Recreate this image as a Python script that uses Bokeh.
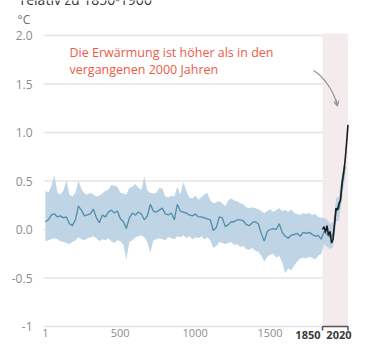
from bokeh.plotting import figure
from bokeh.models import Range1d, FixedTicker, BoxAnnotation, Arrow, OpenHead
from bokeh.core.properties import value
from bokeh.embed import file_html
from bokeh.resources import INLINE

# ---------------- data ----------------
years = list(range(1, 2002, 20))
central = [0.08, 0.10, 0.15, 0.16, 0.13, 0.14, 0.12, 0.13, 0.06, 0.04,
           0.10, 0.24, 0.20, 0.14, 0.15, 0.16, 0.21, 0.12, 0.07, 0.15,
           0.13, 0.18, 0.20, 0.17, 0.19, 0.11, 0.08, 0.01, 0.12, 0.17,
           0.15, 0.18, 0.16, 0.10, 0.14, 0.26, 0.19, 0.18, 0.20, 0.22,
           0.16, 0.15, 0.17, 0.10, 0.26, 0.19, 0.18, 0.17, 0.15, 0.14,
           0.16, 0.13, 0.13, 0.12, 0.11, 0.10, -0.01, 0.02, 0.13, 0.12,
           0.03, 0.05, 0.08, 0.08, 0.10, 0.10, 0.09, 0.05, 0.04, 0.07,
           0.08, 0.06, -0.04, -0.12, -0.02, 0.00, 0.01, 0.00, 0.06, -0.03,
           -0.07, -0.09, -0.06, -0.05, -0.04, -0.07, -0.03, -0.04, -0.03, -0.05,
           -0.07, -0.06, -0.10, -0.02, -0.05, -0.08, -0.05, 0.20, 0.22, 0.45,
           0.65]
upper = [0.40, 0.38, 0.45, 0.56, 0.38, 0.36, 0.40, 0.51, 0.36, 0.34,
         0.38, 0.50, 0.42, 0.37, 0.36, 0.38, 0.36, 0.34, 0.35, 0.37,
         0.40, 0.41, 0.46, 0.45, 0.44, 0.38, 0.37, 0.36, 0.43, 0.44,
         0.47, 0.43, 0.41, 0.55, 0.40, 0.38, 0.37, 0.38, 0.43, 0.42,
         0.34, 0.33, 0.35, 0.34, 0.44, 0.36, 0.49, 0.40, 0.33, 0.32,
         0.35, 0.31, 0.33, 0.36, 0.38, 0.30, 0.27, 0.28, 0.29, 0.27,
         0.24, 0.30, 0.32, 0.30, 0.29, 0.27, 0.26, 0.23, 0.22, 0.23,
         0.22, 0.21, 0.19, 0.17, 0.19, 0.21, 0.18, 0.20, 0.22, 0.19,
         0.20, 0.18, 0.21, 0.17, 0.16, 0.15, 0.17, 0.16, 0.17, 0.15,
         0.16, 0.13, 0.12, 0.12, 0.10, 0.06, 0.08, 0.32, 0.35, 0.58,
         0.72]
lower = [-0.12, -0.11, -0.10, -0.09, -0.10, -0.12, -0.13, -0.14, -0.15, -0.13,
         -0.11, -0.08, -0.10, -0.11, -0.09, -0.08, -0.07, -0.09, -0.12, -0.10,
         -0.11, -0.09, -0.12, -0.14, -0.11, -0.12, -0.16, -0.31, -0.13, -0.11,
         -0.08, -0.07, -0.06, -0.08, -0.13, -0.24, -0.11, -0.10, -0.09, -0.10,
         -0.11, -0.08, -0.09, -0.10, -0.07, -0.08, -0.06, -0.09, -0.07, -0.10,
         -0.08, -0.09, -0.07, -0.10, -0.08, -0.11, -0.19, -0.17, -0.13, -0.14,
         -0.15, -0.14, -0.13, -0.16, -0.15, -0.18, -0.17, -0.20, -0.21, -0.19,
         -0.22, -0.23, -0.27, -0.33, -0.28, -0.26, -0.25, -0.29, -0.27, -0.34,
         -0.45, -0.40, -0.42, -0.37, -0.33, -0.30, -0.29, -0.30, -0.28, -0.29,
         -0.31, -0.27, -0.25, -0.15, -0.18, -0.20, -0.18, 0.08, 0.10, 0.33,
         0.55]

obs_years = list(range(1850, 2021, 10))
obs_values = [0.00, 0.03, -0.03, 0.04, -0.06, -0.02, -0.14, -0.10, 0.05, 0.22,
              0.20, 0.27, 0.30, 0.48, 0.58, 0.70, 0.88, 1.08]

y_ticks = [-1.0, -0.5, 0.0, 0.5, 1.0, 1.5, 2.0]
y_tick_labels = ["-1", "-0.5", "0.0", "0.5", "1.0", "1.5", "2.0"]
x_ticks = [1, 500, 1000, 1500]
x_bold_ticks = [1850, 2020]
recent_period = (1850, 2020)

subtitle = "relativ zu 1850-1900"
unit_label = "°C"
note_lines = ["Die Erwärmung ist höher als in den", "vergangenen 2000 Jahren"]

FONT = "Open Sans"
GREY = "#8c8c8c"

# ---------------- geometry ----------------
W, H = 370, 347
# plotting area of the reference (page px): x 43..349 <-> years -12..2030,
# y 2.0 at px 35, -1.0 at px 326
X0_PX, X0, X1_PX, X1 = 43, -12.0, 349, 2030.0
YTOP_PX, YTOP, YBOT_PX, YBOT = 35, 2.0, 326, -1.0
sx = (X1 - X0) / (X1_PX - X0_PX)       # years per pixel
sy = (YTOP - YBOT) / (YBOT_PX - YTOP_PX)  # units per pixel


def px2x(px):
    return X0 + (px - X0_PX) * sx


def px2y(py):
    return YBOT + (YBOT_PX - py) * sy


p = figure(width=W, height=H, output_backend="svg", toolbar_location=None,
           x_range=Range1d(px2x(0), px2x(W)), y_range=Range1d(px2y(H), px2y(0)),
           min_border=0, min_border_left=0, min_border_right=0,
           min_border_top=0, min_border_bottom=0)
p.outline_line_color = None
p.background_fill_color = "white"
p.border_fill_color = "white"

# recent period shading
p.add_layout(BoxAnnotation(left=recent_period[0], right=recent_period[1],
                           bottom=YBOT, top=px2y(33),
                           fill_color="#f4ecec", fill_alpha=1.0, line_color=None,
                           level="underlay"))

# grid lines (only across the plotting area)
p.xgrid.visible = False
p.ygrid.visible = False
p.segment(x0=[X0] * len(y_ticks), y0=y_ticks, x1=[px2x(348)] * len(y_ticks),
          y1=y_ticks, line_color="#e4e4e4", line_width=1.5, level="underlay")

# axes at fixed positions inside the canvas
p.yaxis.fixed_location = X0
p.yaxis.ticker = FixedTicker(ticks=y_ticks)
p.yaxis.major_label_overrides = {t: l for t, l in zip(y_ticks, y_tick_labels)}
p.yaxis.axis_line_color = None
p.yaxis.major_tick_line_color = None
p.yaxis.minor_tick_line_color = None
p.yaxis.major_label_standoff = 5
p.yaxis.major_label_text_font = FONT
p.yaxis.major_label_text_font_size = "12px"
p.yaxis.major_label_text_color = GREY

p.xaxis.fixed_location = YBOT
p.xaxis.ticker = FixedTicker(ticks=x_ticks)
p.xaxis.axis_line_color = None
p.xaxis.major_tick_line_color = None
p.xaxis.minor_tick_line_color = None
p.xaxis.major_tick_out = 0
p.xaxis.major_label_standoff = 2
p.xaxis.major_label_text_font = FONT
p.xaxis.major_label_text_font_size = "11px"
p.xaxis.major_label_text_color = GREY

# band + lines
p.varea(x=years, y1=lower, y2=upper, fill_color="#bcd2e3", fill_alpha=0.95)
p.line(years, central, line_color="#4f8dab", line_width=1.3)
p.line(obs_years, obs_values, line_color="#1b1b1b", line_width=1.6)

# bold period labels (right-aligned)
p.text(x=[px2x(320), px2x(351)], y=[px2y(334.5)] * 2,
       text=[str(t) for t in x_bold_ticks], text_font=value(FONT),
       text_font_style="bold", text_font_size="11px", text_color="#3a3a3a",
       text_align="right", text_baseline="middle")

# bracket
b = px2y(330)
p.segment(x0=[recent_period[0], recent_period[0], recent_period[1]],
          y0=[YBOT, YBOT, YBOT],
          x1=[recent_period[1], recent_period[0], recent_period[1]],
          y1=[YBOT, b, b], line_color="#555555", line_width=1.6)

# subtitle (cut off at the top edge, as in the reference)
p.text(x=[px2x(20)], y=[px2y(3.5)], text=[subtitle], text_font=value(FONT),
       text_font_size="14px", text_color="#333333", text_align="left",
       text_baseline="alphabetic", y_offset=-5)

# unit
p.text(x=[px2x(17)], y=[px2y(19)], text=[unit_label], text_font=value(FONT),
       text_font_size="12px", text_color="#6e6e6e", text_align="left",
       text_baseline="middle")

# note
p.text(x=[px2x(69)] * 2, y=[px2y(51.7), px2y(69.3)], text=note_lines,
       text_font=value(FONT), text_font_size="12.5px", text_color="#ee5a48",
       text_align="left", text_baseline="middle")

# curved arrow
p.bezier(x0=[px2x(313)], y0=[px2y(70)], cx0=[px2x(323)], cy0=[px2y(76)],
         cx1=[px2x(333)], cy1=[px2y(90)], x1=[px2x(336.5)], y1=[px2y(104)],
         line_color="#909090", line_width=1.2)
p.add_layout(Arrow(end=OpenHead(size=5, line_color="#909090", line_width=1.2),
                   x_start=px2x(335.5), y_start=px2y(99), x_end=px2x(336.8),
                   y_end=px2y(105.5), line_color="#909090", line_width=1.2))

open("out.html", "w").write(file_html(p, INLINE))
